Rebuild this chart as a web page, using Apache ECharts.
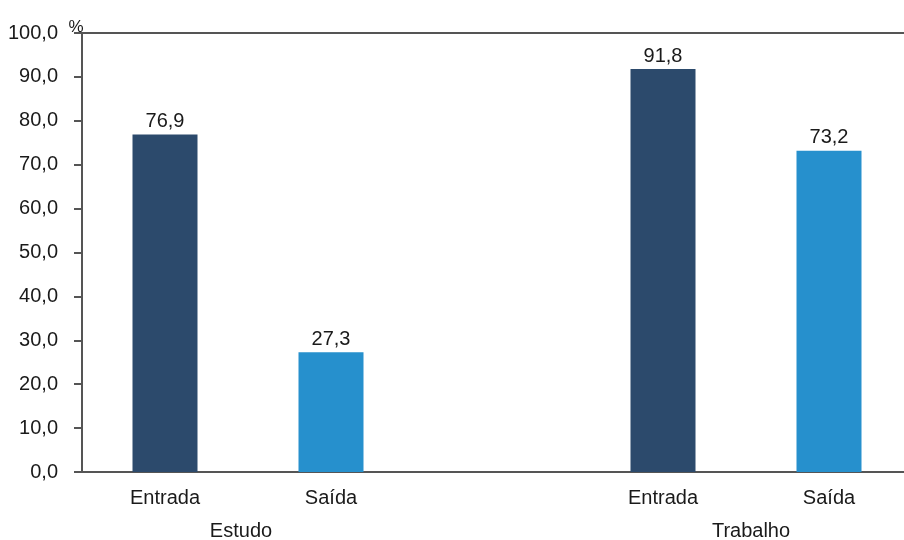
<!DOCTYPE html>
<html>
<head>
<meta charset="utf-8">
<script src="https://cdn.jsdelivr.net/npm/echarts@6/dist/echarts.min.js"></script>
<style>
html,body{margin:0;padding:0;background:#fff;}
#chart{width:904px;height:540px;}
</style>
</head>
<body>
<div id="chart"></div>
<script>
// ---- data ----
const categories = ['Entrada', 'Saída', '', 'Entrada', 'Saída'];
const groupLabels = ['Estudo', 'Trabalho'];
const estudo = [76.9, 27.3];     // Entrada, Saída
const trabalho = [91.8, 73.2];   // Entrada, Saída
const yMin = 0, yMax = 100, yStep = 10;
const yUnit = '%';

const colorEntrada = '#2c4a6c';
const colorSaida = '#2690cd';
const axisColor = '#555555';
const textColor = '#1a1a1a';
const font = '"Liberation Sans", Arial, sans-serif';

const fmt = v => v.toFixed(1).replace('.', ',');

const values = [estudo[0], estudo[1], null, trabalho[0], trabalho[1]];
const barData = values.map((v, i) => v == null ? null : ({
  value: v,
  itemStyle: { color: categories[i] === 'Entrada' ? colorEntrada : colorSaida }
}));

// group-label axis: 11 points, boundaryGap false
const groupAxisData = new Array(11).fill('');
groupAxisData[2] = { value: groupLabels[0], textStyle: { padding: [0, 14, 0, 0] } };
groupAxisData[8] = { value: groupLabels[1], textStyle: { padding: [0, 0, 0, 10] } };

const chart = echarts.init(document.getElementById('chart'), null, { renderer: 'canvas' });
chart.setOption({
  animation: false,
  backgroundColor: '#ffffff',
  grid: { left: 82, width: 830, top: 33, bottom: 68, containLabel: false, outerBoundsMode: 'none' },
  xAxis: [
    {
      type: 'category',
      data: categories,
      position: 'bottom',
      axisLine: { show: true, lineStyle: { color: axisColor, width: 2 } },
      axisTick: { show: false },
      axisLabel: { interval: 0, margin: 16, fontSize: 20, color: textColor, fontFamily: font }
    },
    {
      type: 'category',
      data: groupAxisData,
      boundaryGap: false,
      position: 'bottom',
      axisLine: { show: false },
      axisTick: { show: false },
      axisLabel: { interval: 0, margin: 49, fontSize: 20, color: textColor, fontFamily: font }
    },
    {
      type: 'category',
      data: categories,
      position: 'top',
      axisLine: { show: true, lineStyle: { color: axisColor, width: 2 } },
      axisTick: { show: false },
      axisLabel: { show: false }
    }
  ],
  yAxis: {
    type: 'value',
    min: yMin, max: yMax, interval: yStep,
    name: yUnit,
    nameLocation: 'end',
    nameGap: -3,
    nameTextStyle: { fontSize: 17, color: textColor, fontFamily: font, padding: [0, 12, 0, 0] },
    axisLine: { show: true, lineStyle: { color: axisColor, width: 2 } },
    axisTick: { show: true, inside: false, length: 8, lineStyle: { color: axisColor, width: 2 } },
    axisLabel: { margin: 24, fontSize: 20, color: textColor, fontFamily: font, formatter: v => fmt(v) },
    splitLine: { show: false }
  },
  series: [{
    type: 'bar',
    xAxisIndex: 0,
    data: barData,
    barWidth: 65,
    label: {
      show: true, position: 'top', distance: 3,
      fontSize: 20, color: textColor, fontFamily: font,
      formatter: p => fmt(p.value)
    }
  }]
});
</script>
</body>
</html>
